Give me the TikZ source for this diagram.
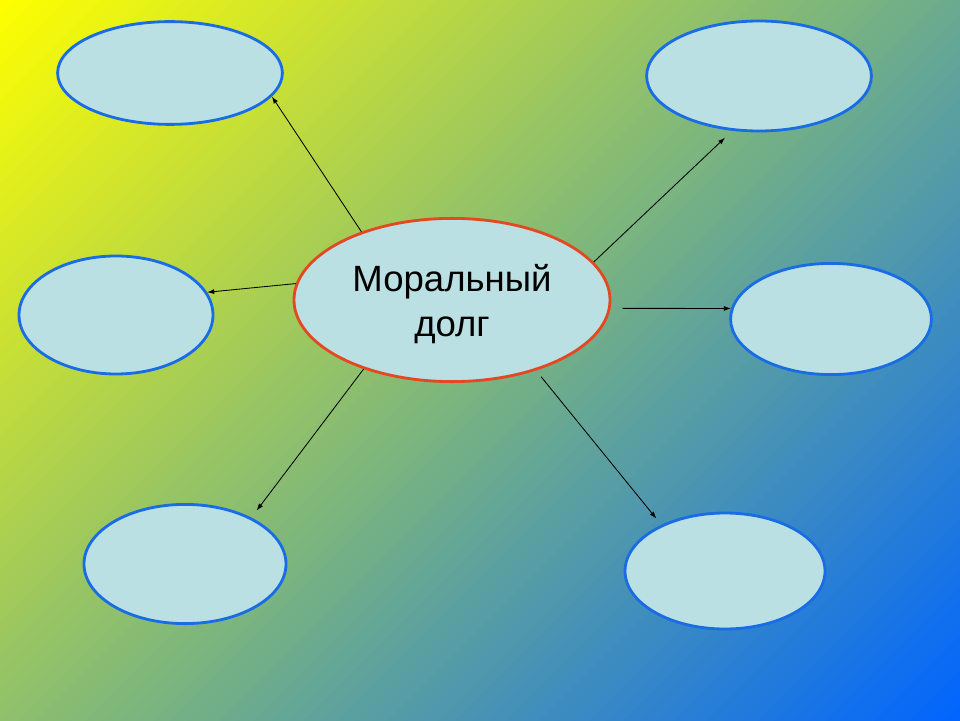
\documentclass[tikz,border=0pt]{standalone}
\usepackage{fontspec}
\setmainfont{Liberation Sans}
\usetikzlibrary{shapes.geometric,arrows.meta}
\definecolor{giallo}{RGB}{255,255,0}
\definecolor{verde}{RGB}{125,182,125}
\definecolor{blu}{RGB}{0,100,255}
\definecolor{riempi}{RGB}{187,224,228}
\definecolor{bordoblu}{RGB}{25,108,228}
\definecolor{bordorosso}{RGB}{228,72,32}
\begin{document}
\begin{tikzpicture}[>={Latex[length=5pt,width=3.5pt]},
	bolla/.style={ellipse, draw=bordoblu, line width=2pt, fill=riempi, inner sep=0pt},
	freccia/.style={->, line width=0.6pt}]
	%Sfondo
	\useasboundingbox (0,0) rectangle (24,18);
	\begin{scope}
	\clip (0,0) rectangle (24,18);
	\foreach \i in {0,...,99}
	{\ifnum\i<50 \pgfmathtruncatemacro\p{2*\i+1}\colorlet{tinta}{verde!\p!giallo}
	\else \pgfmathtruncatemacro\p{2*\i-99}\colorlet{tinta}{blu!\p!verde}\fi
	\fill [tinta, shift={(0,18)}, rotate=-45] ({\i*0.297},-12.8) rectangle ({\i*0.297+0.31},17);}
	\end{scope}
	%Centro
	\node [bolla, draw=bordorosso, minimum width=7.9cm, minimum height=4.08cm, align=center,
		text height=57pt, font=\fontsize{26}{32}\selectfont] (dovere) at (11.3,10.5) {Моральный\\долг};
	%Ellissi
	\node [bolla, minimum width=5.62cm, minimum height=2.57cm] (altosx) at (4.25,16.175) {};
	\node [bolla, minimum width=5.62cm, minimum height=2.75cm] (altodx) at (18.975,16.1) {};
	\node [bolla, minimum width=4.85cm, minimum height=2.95cm] (mediosx) at (2.9,10.125) {};
	\node [bolla, minimum width=5.02cm, minimum height=2.78cm] (mediodx) at (20.775,10.025) {};
	\node [bolla, minimum width=5.05cm, minimum height=2.98cm] (bassosx) at (4.625,3.9) {};
	\node [bolla, minimum width=5cm, minimum height=2.9cm] (bassodx) at (18.125,3.725) {};
	%Frecce
	\draw [freccia] (dovere.143) -- (altosx.-13);
	\draw [freccia, shorten >=0.25cm] (dovere.15) -- (altodx.-116);
	\draw [freccia] (dovere.174) -- (mediosx.14);
	\draw [freccia, shorten <=0.3cm] (dovere.-3) -- (mediodx.174);
	\draw [freccia, shorten >=0.22cm] (dovere.-142) -- (bassosx.35.5);
	\draw [freccia, shorten <=0.2cm, shorten >=0.2cm] (dovere.-40) -- (bassodx.144);
\end{tikzpicture}
\end{document}
